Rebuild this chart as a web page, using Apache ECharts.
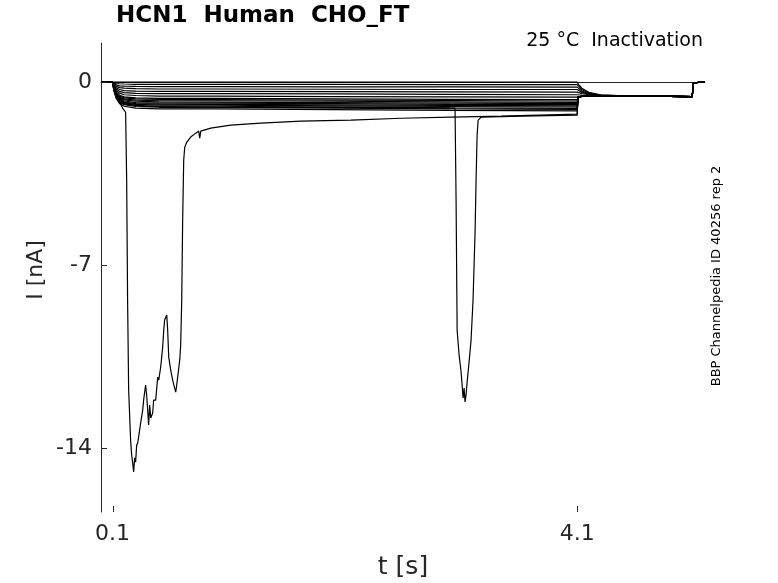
<!DOCTYPE html>
<html>
<head>
<meta charset="utf-8">
<script src="https://cdn.jsdelivr.net/npm/echarts@6/dist/echarts.min.js"></script>
<style>
html,body{margin:0;padding:0;background:#fff;}
#chart{width:778px;height:583px;}
</style>
</head>
<body>
<div id="chart"></div>
<script>
// ---- data ----
var xTicks = [0.1, 4.1];
var yTicks = [-14, -7, 0];

// shared time base (s) for the family of inactivation sweeps
var famT = [0, 0.1, 0.11, 0.13, 0.16, 0.2, 0.3, 0.5, 1.0, 2.0, 3.0, 4.1, 4.11, 4.14, 4.2, 4.3, 4.5, 5.09, 5.1, 5.2];
var fam01 = [0, 0, 0, 0, 0, 0, 0, 0, 0, 0, 0, 0, -0.08, -0.23, -0.39, -0.48, -0.52, -0.55, -0.03, 0.02];
var fam02 = [0, 0, -0.02, -0.05, -0.06, -0.07, -0.08, -0.08, -0.08, -0.08, -0.09, -0.09, -0.15, -0.28, -0.42, -0.49, -0.52, -0.55, -0.03, 0.02];
var fam03 = [0, 0, -0.05, -0.1, -0.14, -0.15, -0.16, -0.17, -0.17, -0.18, -0.18, -0.19, -0.24, -0.34, -0.44, -0.5, -0.52, -0.55, -0.03, 0.02];
var fam04 = [0, 0, -0.08, -0.16, -0.21, -0.23, -0.25, -0.26, -0.26, -0.27, -0.28, -0.28, -0.32, -0.39, -0.46, -0.5, -0.52, -0.55, -0.03, 0.02];
var fam05 = [0, 0, -0.1, -0.21, -0.28, -0.32, -0.34, -0.35, -0.35, -0.36, -0.37, -0.38, -0.4, -0.44, -0.48, -0.51, -0.52, -0.55, -0.03, 0.02];
var fam06 = [0, 0, -0.13, -0.26, -0.35, -0.4, -0.43, -0.44, -0.44, -0.45, -0.47, -0.48, -0.49, -0.5, -0.51, -0.52, -0.52, -0.55, -0.03, 0.02];
var fam07 = [0, 0, -0.16, -0.32, -0.42, -0.48, -0.51, -0.53, -0.53, -0.55, -0.56, -0.57, -0.55, -0.54, -0.53, -0.52, -0.52, -0.55, -0.03, 0.02];
var fam08 = [0, 0, -0.19, -0.37, -0.5, -0.56, -0.6, -0.62, -0.62, -0.64, -0.66, -0.67, -0.56, -0.54, -0.53, -0.52, -0.52, -0.55, -0.03, 0.02];
var fam09 = [0, 0, -0.2, -0.4, -0.54, -0.6, -0.64, -0.66, -0.67, -0.69, -0.7, -0.72, -0.56, -0.54, -0.53, -0.52, -0.52, -0.55, -0.03, 0.02];
var fam10 = [0, 0, -0.21, -0.43, -0.57, -0.64, -0.69, -0.71, -0.71, -0.73, -0.75, -0.77, -0.56, -0.54, -0.53, -0.52, -0.52, -0.55, -0.03, 0.02];
var fam11 = [0, 0, -0.23, -0.45, -0.6, -0.68, -0.73, -0.75, -0.76, -0.78, -0.8, -0.82, -0.56, -0.54, -0.53, -0.52, -0.52, -0.55, -0.03, 0.02];
var fam12 = [0, 0, -0.24, -0.48, -0.64, -0.72, -0.78, -0.8, -0.8, -0.82, -0.85, -0.86, -0.56, -0.54, -0.53, -0.52, -0.52, -0.55, -0.03, 0.02];
var fam13 = [0, 0, -0.25, -0.5, -0.67, -0.76, -0.82, -0.84, -0.85, -0.87, -0.89, -0.91, -0.56, -0.54, -0.53, -0.52, -0.52, -0.55, -0.03, 0.02];
var fam14 = [0, 0, -0.26, -0.53, -0.7, -0.79, -0.85, -0.88, -0.88, -0.91, -0.93, -0.95, -0.56, -0.54, -0.53, -0.52, -0.52, -0.55, -0.03, 0.02];
var fam15 = [0, 0, -0.28, -0.55, -0.74, -0.83, -0.89, -0.92, -0.92, -0.95, -0.98, -1.0, -0.56, -0.54, -0.53, -0.52, -0.52, -0.55, -0.03, 0.02];
var fam16 = [0, 0, -0.29, -0.58, -0.77, -0.86, -0.93, -0.96, -0.96, -0.99, -1.02, -1.04, -0.56, -0.54, -0.53, -0.52, -0.52, -0.55, -0.03, 0.02];
var fam17 = [0, 0, -0.31, -0.61, -0.82, -0.92, -0.99, -1.02, -1.02, -1.05, -1.08, -1.1, -0.56, -0.54, -0.53, -0.52, -0.52, -0.55, -0.03, 0.02];

// sweep with the large early inward transient
var spikeAT = [0, 0.1, 0.152, 0.186, 0.212, 0.221, 0.229, 0.238, 0.255, 0.264, 0.272, 0.281, 0.29, 0.298, 0.307, 0.316, 0.333, 0.341, 0.359, 0.367, 0.384, 0.393, 0.402, 0.41, 0.419, 0.428, 0.445, 0.453, 0.471, 0.488, 0.497, 0.514, 0.531, 0.54, 0.548, 0.557, 0.566, 0.574, 0.583, 0.6, 0.617, 0.634, 0.643, 0.652, 0.66, 0.678, 0.686, 0.695, 0.703, 0.712, 0.721, 0.738, 0.772, 0.816, 0.841, 0.85, 0.859, 0.945, 1.117, 1.376, 1.721, 2.152, 2.583, 3.014, 3.445, 4.1, 4.105, 4.14, 4.2, 4.3, 4.5, 5.09, 5.1, 5.2];
var spikeAV = [0, 0, -0.69, -0.99, -1.15, -3.75, -8.34, -11.78, -13.7, -14.27, -14.54, -14.92, -14.38, -14.54, -13.89, -13.81, -13.31, -13.05, -12.55, -12.17, -11.59, -11.97, -12.55, -13.12, -12.36, -12.85, -12.66, -12.17, -12.17, -11.29, -11.4, -10.9, -10.14, -9.49, -9.1, -9.03, -8.91, -9.49, -10.52, -11.02, -11.4, -11.71, -11.86, -11.59, -11.29, -10.63, -10.06, -8.34, -5.28, -2.98, -2.49, -2.3, -2.1, -1.95, -1.87, -2.14, -1.87, -1.76, -1.64, -1.57, -1.49, -1.45, -1.38, -1.34, -1.3, -1.22, -0.56, -0.54, -0.53, -0.52, -0.52, -0.55, -0.03, 0.02];

// sweep with the late inward transient
var spikeBT = [0, 0.1, 0.152, 0.212, 0.341, 0.859, 1.721, 2.583, 3.048, 3.057, 3.066, 3.083, 3.1, 3.109, 3.117, 3.126, 3.134, 3.143, 3.152, 3.169, 3.186, 3.203, 3.221, 3.229, 3.238, 3.247, 3.272, 3.617, 4.1, 4.105, 4.14, 4.2, 4.3, 4.5, 5.09, 5.1, 5.2];
var spikeBV = [0, 0, -0.61, -0.84, -0.92, -0.96, -0.96, -0.96, -0.99, -4.51, -9.49, -10.44, -11.09, -11.59, -12.09, -11.71, -12.24, -11.97, -11.48, -10.71, -9.87, -8.34, -5.66, -3.75, -2.03, -1.45, -1.34, -1.3, -1.26, -0.56, -0.54, -0.53, -0.52, -0.52, -0.55, -0.03, 0.02];

var familyValues = [fam01, fam02, fam03, fam04, fam05, fam06, fam07, fam08, fam09, fam10, fam11, fam12, fam13, fam14, fam15, fam16, fam17];

function zip(t, v) {
  var out = [];
  for (var i = 0; i < t.length; i++) out.push([t[i], v[i]]);
  return out;
}

var series = [];
familyValues.forEach(function (vals) {
  series.push({ type: 'line', data: zip(famT, vals), showSymbol: false, silent: true,
    lineStyle: { color: '#000', width: 1.2 } });
});
series.push({ type: 'line', data: zip(spikeAT, spikeAV), showSymbol: false, silent: true,
  lineStyle: { color: '#000', width: 1.2 } });
series.push({ type: 'line', data: zip(spikeBT, spikeBV), showSymbol: false, silent: true,
  lineStyle: { color: '#000', width: 1.2 } });

var FONT = 'DejaVu Sans';
var axisCol = '#262626';
var X_MIN = 0, X_MAX = 5.2, Y_MIN = -16.45, Y_MAX = 1.5;

var chart = echarts.init(document.getElementById('chart'), null, { renderer: 'canvas' });
chart.setOption({
  animation: false,
  backgroundColor: '#fff',
  grid: { left: 101, right: 73, top: 43, bottom: 71, containLabel: false },
  xAxis: {
    type: 'value', min: X_MIN, max: X_MAX,
    axisLine: { show: true, lineStyle: { color: axisCol, width: 1 } },
    axisTick: { show: false },
    axisLabel: { customValues: xTicks, color: axisCol, fontFamily: FONT, fontSize: 22, margin: 11,
      formatter: function (v) { return v.toFixed(1); } },
    splitLine: { show: false }
  },
  yAxis: {
    type: 'value', min: Y_MIN, max: Y_MAX,
    axisLine: { show: true, lineStyle: { color: axisCol, width: 1 } },
    axisTick: { show: false },
    axisLabel: { customValues: yTicks, color: axisCol, fontFamily: FONT, fontSize: 22, margin: 9,
      formatter: function (v) { return String(Math.round(v)); } },
    splitLine: { show: false }
  },
  series: series
});

// inward tick marks placed through the chart's own scales
var graphics = [
  { type: 'text', left: 116, top: 5,
    style: { text: 'HCN1  Human  CHO_FT', fontFamily: FONT, fontWeight: 'bold', fontSize: 23, fill: '#000' } },
  { type: 'text', x: 703, y: 41,
    style: { text: '25 °C  Inactivation', fontFamily: FONT, fontSize: 19, fill: '#000', align: 'right', verticalAlign: 'middle' } },
  { type: 'text', x: 403, y: 567,
    style: { text: 't [s]', fontFamily: FONT, fontSize: 25, fill: axisCol, align: 'center', verticalAlign: 'middle' } },
  { type: 'text', x: 36, y: 270, rotation: Math.PI / 2,
    style: { text: 'I [nA]', fontFamily: FONT, fontSize: 22, fill: axisCol, align: 'center', verticalAlign: 'middle' } },
  { type: 'text', x: 717, y: 276, rotation: Math.PI / 2,
    style: { text: 'BBP Channelpedia ID 40256 rep 2', fontFamily: FONT, fontSize: 13, fill: '#000', align: 'center', verticalAlign: 'middle' } }
];
xTicks.forEach(function (t) {
  var p = chart.convertToPixel({ gridIndex: 0 }, [t, Y_MIN]);
  var px = Math.round(p[0]) + 0.5;
  graphics.push({ type: 'line', z: 10, shape: { x1: px, y1: p[1], x2: px, y2: p[1] - 6 },
    style: { stroke: axisCol, lineWidth: 1 } });
});
yTicks.forEach(function (v) {
  var p = chart.convertToPixel({ gridIndex: 0 }, [X_MIN, v]);
  var py = Math.round(p[1]) + 0.5;
  graphics.push({ type: 'line', z: 10, shape: { x1: p[0], y1: py, x2: p[0] + 6, y2: py },
    style: { stroke: axisCol, lineWidth: 1 } });
});
chart.setOption({ graphic: graphics });
</script>
</body>
</html>
